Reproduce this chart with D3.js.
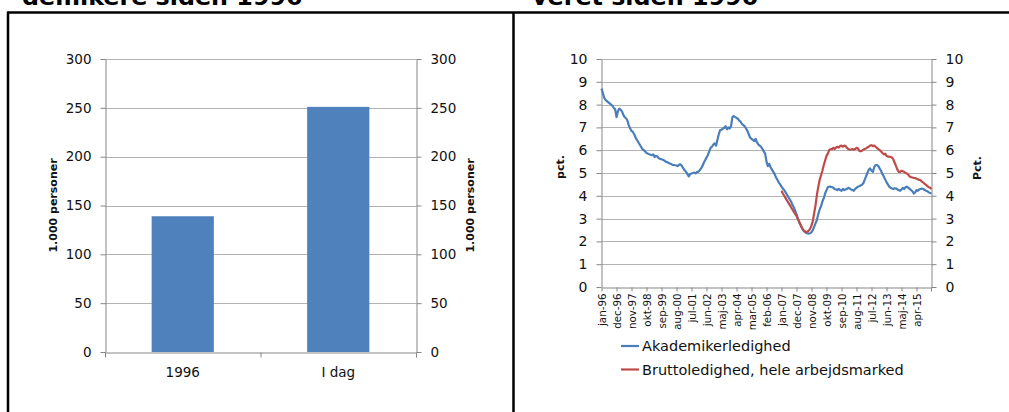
<!DOCTYPE html>
<html>
<head>
<meta charset="utf-8">
<script src="https://cdn.jsdelivr.net/npm/d3@7/dist/d3.min.js"></script>
<style>
  html, body { margin: 0; padding: 0; background: #fff; }
  svg { display: block; font-family: "DejaVu Sans", Verdana, sans-serif; }
</style>
</head>
<body>
<svg id="chart" width="1009" height="412"></svg>
<script>
// ---- data: left panel (bars) ----
let barCats   = ["1996", "I dag"];
let barValues = [139, 251];
let barTicks  = [0, 50, 100, 150, 200, 250, 300];

// ---- data: right panel (monthly lines, jan-96 .. mar-16) ----
let monthNames = ["jan","feb","mar","apr","maj","jun","jul","aug","sep","okt","nov","dec"];
let akademiker = [
  8.7, 8.5, 8.3, 8.2, 8.15, 8.1, 8.05, 8.0, 7.95, 7.85, 7.8, 7.45,
  7.7, 7.82, 7.78, 7.7, 7.55, 7.45, 7.4, 7.3, 7.1, 6.95, 6.85, 6.8,
  6.7, 6.55, 6.45, 6.35, 6.25, 6.15, 6.05, 6.0, 5.95, 5.88, 5.85, 5.82,
  5.8, 5.78, 5.82, 5.7, 5.75, 5.72, 5.65, 5.62, 5.6, 5.58, 5.55, 5.5,
  5.48, 5.45, 5.42, 5.4, 5.36, 5.35, 5.34, 5.33, 5.3, 5.37, 5.38, 5.3,
  5.2, 5.12, 5.05, 4.95, 4.85, 4.95, 4.98, 5.0, 5.02, 4.98, 5.05, 5.05,
  5.12, 5.2, 5.3, 5.45, 5.56, 5.68, 5.78, 5.95, 6.1, 6.15, 6.25, 6.3,
  6.2, 6.45, 6.7, 6.88, 6.9, 6.95, 6.98, 7.05, 6.92, 7.0, 6.95, 7.05,
  7.45, 7.5, 7.45, 7.42, 7.38, 7.3, 7.25, 7.15, 7.1, 7.05, 6.95, 6.85,
  6.7, 6.55, 6.5, 6.45, 6.4, 6.5, 6.35, 6.25, 6.2, 6.15, 6.05, 5.95,
  5.85, 5.5, 5.3, 5.4, 5.25, 5.15, 5.05, 4.95, 4.8, 4.7, 4.58, 4.5,
  4.4, 4.32, 4.25, 4.15, 4.05, 3.95, 3.85, 3.75, 3.6, 3.5, 3.35, 3.2,
  3.0, 2.85, 2.72, 2.58, 2.48, 2.42, 2.38, 2.35, 2.34, 2.36, 2.4, 2.5,
  2.65, 2.8, 2.95, 3.2, 3.4, 3.55, 3.75, 3.9, 4.1, 4.25, 4.38, 4.4,
  4.4, 4.38, 4.35, 4.3, 4.28, 4.25, 4.3, 4.25, 4.22, 4.3, 4.25, 4.28,
  4.3, 4.35, 4.32, 4.28, 4.25, 4.22, 4.3, 4.35, 4.4, 4.42, 4.45, 4.48,
  4.55, 4.7, 4.85, 5.0, 5.15, 5.2, 5.1, 5.05, 5.25, 5.35, 5.35, 5.3,
  5.2, 5.1, 4.95, 4.85, 4.72, 4.6, 4.5, 4.4, 4.35, 4.32, 4.3, 4.33,
  4.32, 4.28, 4.25, 4.22, 4.28, 4.35, 4.3, 4.38, 4.4, 4.35, 4.3, 4.25,
  4.2, 4.1, 4.15, 4.25, 4.22, 4.28, 4.3, 4.32, 4.3, 4.25, 4.22, 4.2,
  4.15, 4.12, 4.1
];
// bruttoledighed starts jan-07
let bruttoStart = "jan-07";
let brutto = [
  4.22, 4.1, 4.0, 3.9, 3.8, 3.7, 3.6, 3.5, 3.4, 3.3, 3.2, 3.12,
  2.98, 2.85, 2.72, 2.6, 2.5, 2.45, 2.4, 2.42, 2.48, 2.55, 2.7, 2.9,
  3.25, 3.6, 4.05, 4.4, 4.7, 4.9, 5.1, 5.35, 5.55, 5.75, 5.85, 6.0,
  6.05, 6.05, 6.1, 6.05, 6.12, 6.15, 6.12, 6.18, 6.2, 6.15, 6.2, 6.18,
  6.1, 6.05, 6.02, 6.03, 6.05, 6.02, 6.05, 6.1, 6.08, 5.98, 5.95, 5.98,
  6.02, 6.05, 6.08, 6.12, 6.15, 6.2, 6.22, 6.18, 6.2, 6.15, 6.1, 6.05,
  6.0, 5.95, 5.88, 5.82, 5.85, 5.75, 5.72, 5.72, 5.7, 5.68, 5.6, 5.45,
  5.3, 5.15, 5.05, 5.05, 5.1, 5.08, 5.05, 5.0, 4.98, 4.92, 4.85, 4.82,
  4.8, 4.78, 4.78, 4.75, 4.72, 4.7, 4.68, 4.62, 4.58, 4.52, 4.48, 4.42,
  4.38, 4.35, 4.3
];
let lineTicks = [0, 1, 2, 3, 4, 5, 6, 7, 8, 9, 10];
let monthTickLabels = ["jan-96","dec-96","nov-97","okt-98","sep-99","aug-00","jul-01",
  "jun-02","maj-03","apr-04","mar-05","feb-06","jan-07","dec-07","nov-08","okt-09",
  "sep-10","aug-11","jul-12","jun-13","maj-14","apr-15"];
let seriesNames = ["Akademikerledighed", "Bruttoledighed, hele arbejdsmarked"];

let kColors = {
  bar: "#4f81bd",
  blue: "#4a7ebb",
  red: "#be4b48",
  grid: "#b3b3b3",
  axis: "#868686",
  text: "#111"
};

// category list for the monthly axis
let months = [];
for (let y = 1996; y <= 2016; y++) {
  monthNames.forEach(function(m) {
    if (months.length < akademiker.length) months.push(m + "-" + String(y).slice(2));
  });
}

let svg = d3.select("#chart");

// ---- frame + headings (cut off by the top edge, as in the source) ----
svg.append("text").attr("x", 22).attr("y", 5)
  .attr("font-size", 23.8).attr("font-weight", "bold").attr("fill", "#000")
  .text("demikere siden 1996");
svg.append("text").attr("x", 532).attr("y", 5)
  .attr("font-size", 23.8).attr("font-weight", "bold").attr("fill", "#000")
  .text("veret siden 1996");

let frame = svg.append("g").attr("stroke", "#000").attr("stroke-width", 2.5);
frame.append("line").attr("x1", 7).attr("x2", 1009).attr("y1", 12.5).attr("y2", 12.5);
frame.append("line").attr("x1", 8).attr("x2", 8).attr("y1", 12).attr("y2", 412);
frame.append("line").attr("x1", 513.5).attr("x2", 513.5).attr("y1", 12).attr("y2", 412);


// ================= left panel: bars =================
let kBar = { x: 105, y: 59, w: 311, h: 293 };

let xBar = d3.scaleBand().domain(barCats)
  .range([kBar.x, kBar.x + kBar.w]).paddingInner(0.6).paddingOuter(0.3);
let yBar = d3.scaleLinear().domain([0, 300]).range([kBar.y + kBar.h, kBar.y]);

// gridlines
svg.append("g").selectAll("line").data(barTicks.slice(1)).join("line")
  .attr("x1", kBar.x).attr("x2", kBar.x + kBar.w)
  .attr("y1", d => Math.round(yBar(d)) + 0.5).attr("y2", d => Math.round(yBar(d)) + 0.5)
  .attr("stroke", kColors.grid);

svg.append("g").selectAll("rect").data(barValues).join("rect")
  .attr("x", (d, i) => xBar(barCats[i]))
  .attr("width", xBar.bandwidth())
  .attr("y", d => yBar(d))
  .attr("height", d => yBar(0) - yBar(d))
  .attr("fill", kColors.bar);

function styleAxis(g, size) {
  g.select(".domain").attr("stroke", kColors.axis);
  g.selectAll(".tick line").attr("stroke", kColors.axis);
  g.selectAll(".tick text").attr("fill", kColors.text).attr("font-size", size)
    .attr("font-family", "DejaVu Sans, Verdana, sans-serif");
}

let gBarL = svg.append("g").attr("transform", "translate(" + (kBar.x + 0.5) + ",0)")
  .call(d3.axisLeft(yBar).tickValues(barTicks).tickSize(5).tickSizeOuter(0).tickPadding(9));
styleAxis(gBarL, 13.5);
let gBarR = svg.append("g").attr("transform", "translate(" + (kBar.x + kBar.w + 0.5) + ",0)")
  .call(d3.axisRight(yBar).tickValues(barTicks).tickSize(5).tickSizeOuter(0).tickPadding(9));
styleAxis(gBarR, 13.5);

// bottom axis: ticks between categories
let gBarB = svg.append("g").attr("transform", "translate(0," + (kBar.y + kBar.h + 0.5) + ")")
  .call(d3.axisBottom(xBar).tickSize(0).tickPadding(15));
styleAxis(gBarB, 13.5);
gBarB.selectAll(".cut").data([kBar.x, kBar.x + kBar.w / 2, kBar.x + kBar.w]).join("line")
  .attr("x1", d => d + 0.5).attr("x2", d => d + 0.5).attr("y1", 0).attr("y2", 5)
  .attr("stroke", kColors.axis);

svg.append("text").attr("transform", "translate(57," + (kBar.y + kBar.h / 2) + ") rotate(-90)")
  .attr("text-anchor", "middle").attr("font-size", 11).attr("font-weight", "bold")
  .attr("fill", kColors.text).text("1.000 personer");
svg.append("text").attr("transform", "translate(474," + (kBar.y + kBar.h / 2) + ") rotate(-90)")
  .attr("text-anchor", "middle").attr("font-size", 11).attr("font-weight", "bold")
  .attr("fill", kColors.text).text("1.000 personer");


// ================= right panel: lines =================
let kLine = { x: 601.5, y: 59, w: 330, h: 228 };

let xLine = d3.scalePoint().domain(months).range([kLine.x, kLine.x + kLine.w]);
let yLine = d3.scaleLinear().domain([0, 10]).range([kLine.y + kLine.h, kLine.y]);

svg.append("g").selectAll("line").data(lineTicks.slice(1)).join("line")
  .attr("x1", kLine.x).attr("x2", kLine.x + kLine.w)
  .attr("y1", d => Math.round(yLine(d)) + 0.5).attr("y2", d => Math.round(yLine(d)) + 0.5)
  .attr("stroke", kColors.grid);

let gLineL = svg.append("g").attr("transform", "translate(" + kLine.x + ",0)")
  .call(d3.axisLeft(yLine).tickValues(lineTicks).tickSize(5).tickSizeOuter(0).tickPadding(9));
styleAxis(gLineL, 14);
let gLineR = svg.append("g").attr("transform", "translate(" + (kLine.x + kLine.w) + ",0)")
  .call(d3.axisRight(yLine).tickValues(lineTicks).tickSize(5).tickSizeOuter(0).tickPadding(9));
styleAxis(gLineR, 14);

let gLineB = svg.append("g").attr("transform", "translate(0," + (kLine.y + kLine.h + 0.5) + ")")
  .call(d3.axisBottom(xLine).tickValues(monthTickLabels).tickSize(4).tickSizeOuter(0).tickPadding(4));
styleAxis(gLineB, 10.3);
gLineB.selectAll(".tick text")
  .attr("transform", "rotate(-90)").attr("text-anchor", "end")
  .attr("x", -6).attr("y", 0).attr("dy", "0.35em");
gLineB.append("line").attr("x1", kLine.x + kLine.w).attr("x2", kLine.x + kLine.w)
  .attr("y1", 0).attr("y2", 4).attr("stroke", kColors.axis);

let lineGen = d3.line().x(d => xLine(d.m)).y(d => yLine(d.v));
let bruttoOffset = months.indexOf(bruttoStart);

svg.append("path")
  .datum(akademiker.map((v, i) => ({ m: months[i], v: v })))
  .attr("d", lineGen).attr("fill", "none")
  .attr("stroke", kColors.blue).attr("stroke-width", 2.2).attr("stroke-linejoin", "round");
svg.append("path")
  .datum(brutto.map((v, i) => ({ m: months[i + bruttoOffset], v: v })))
  .attr("d", lineGen).attr("fill", "none")
  .attr("stroke", kColors.red).attr("stroke-width", 2.2).attr("stroke-linejoin", "round");

svg.append("text").attr("transform", "translate(564," + (kLine.y + 108) + ") rotate(-90)")
  .attr("text-anchor", "middle").attr("font-size", 11).attr("font-weight", "bold")
  .attr("fill", kColors.text).text("pct.");
svg.append("text").attr("transform", "translate(981," + (kLine.y + 109) + ") rotate(-90)")
  .attr("text-anchor", "middle").attr("font-size", 11).attr("font-weight", "bold")
  .attr("fill", kColors.text).text("Pct.");

// legend
let legend = svg.append("g").selectAll("g").data(seriesNames).join("g")
  .attr("transform", (d, i) => "translate(621," + (346 + i * 23.5) + ")");
legend.append("line").attr("x1", 0).attr("x2", 18).attr("y1", 0).attr("y2", 0)
  .attr("stroke-width", 2.2).attr("stroke", (d, i) => i === 0 ? kColors.blue : kColors.red);
legend.append("text").attr("x", 21).attr("y", 0).attr("dy", "0.36em")
  .attr("font-size", 14.5).attr("fill", kColors.text).text(d => d);
</script>
</body>
</html>
